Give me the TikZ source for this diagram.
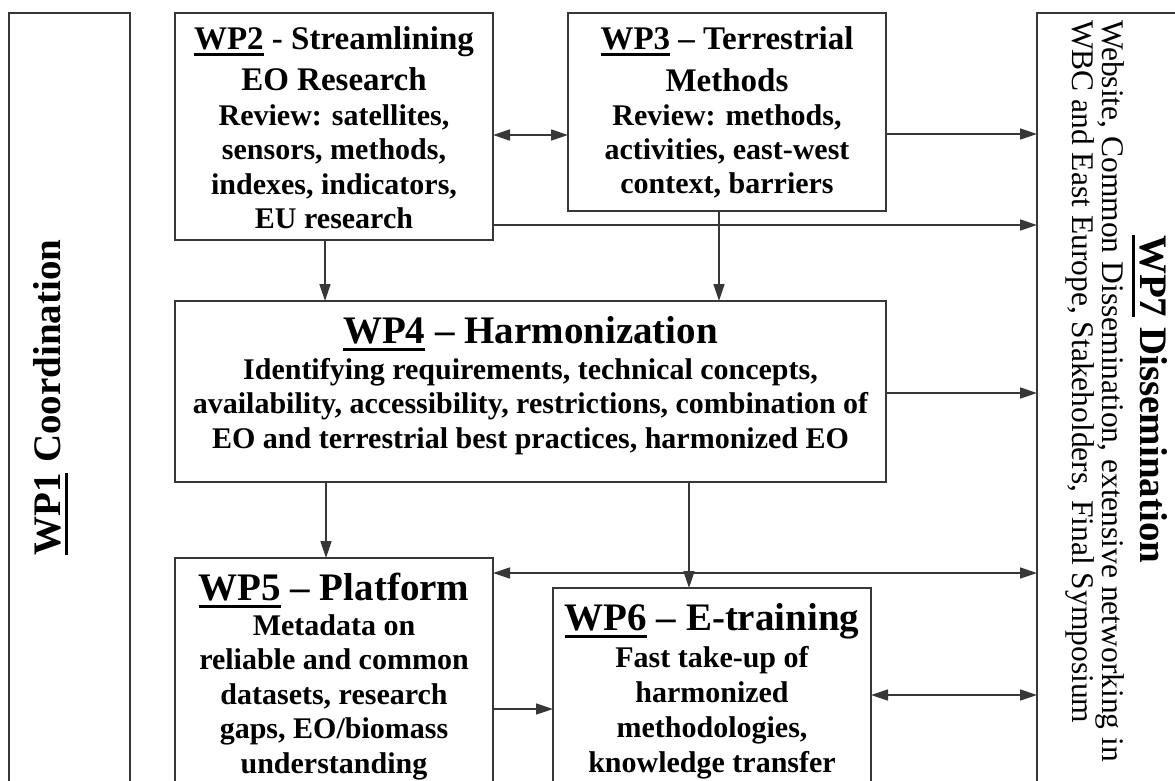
\documentclass[tikz,border=0pt]{standalone}
\usepackage{fontspec}
\setmainfont{Liberation Serif}
\usetikzlibrary{arrows.meta}
\newcommand\wpul[1]{\setbox0\hbox{#1}\rlap{\rule[-0.21em]{\wd0}{0.075em}}\box0\relax}
\definecolor{lc}{RGB}{55,55,55}
\begin{document}
\begin{tikzpicture}[x=1pt,y=-1pt,
  box/.style={draw=lc, line width=1.7pt, rectangle, inner sep=0pt, outer sep=0pt, anchor=north west},
  txt/.style={inner sep=0pt, outer sep=0pt, anchor=base, font=\bfseries\fontsize{30}{34}\selectfont},
  sttl/.style={txt, font=\bfseries\fontsize{33}{38}\selectfont},
  ttl/.style={txt, font=\bfseries\fontsize{39}{44}\selectfont},
  rtxt/.style={inner sep=0pt, outer sep=0pt, font=\fontsize{31.5}{36}\selectfont},
  tip/.tip={Triangle[length=17pt,width=11pt]},
  arr/.style={draw=lc, line width=1.5pt, -tip},
  darr/.style={draw=lc, line width=1.5pt, tip-tip}]
\useasboundingbox (0,0) rectangle (1175,780);
\clip (0,0) rectangle (1175,780);
\fill[white] (0,0) rectangle (1175,780);
% boxes
\node[box, minimum width=121pt, minimum height=800pt] (wp1) at (9,13) {};
\node[box, minimum width=318pt, minimum height=227pt] (wp2) at (175,13) {};
\node[box, minimum width=318pt, minimum height=198pt] (wp3) at (568,13) {};
\node[box, minimum width=711pt, minimum height=181pt] (wp4) at (175,301) {};
\node[box, minimum width=318pt, minimum height=300pt] (wp5) at (175,558) {};
\node[box, minimum width=318pt, minimum height=300pt] (wp6) at (553,588) {};
\node[box, minimum width=200pt, minimum height=800pt] (wp7) at (1037,13) {};
% WP1
\node[ttl, rotate=90, anchor=base west] (t1) at (60,555) {\wpul{WP1} Coordination};
% WP2
\node[sttl] (t2a) at (334,49) {\wpul{WP2} - Streamlining};
\node[sttl] (t2b) at (334,90) {EO Research};
\node[txt] (t2c) at (334,125) {Review: satellites,};
\node[txt] (t2d) at (334,159) {sensors, methods,};
\node[txt] (t2e) at (334,194) {indexes, indicators,};
\node[txt] (t2f) at (334,228) {EU research};
% WP3
\node[sttl] (t3a) at (727,49) {\wpul{WP3} – Terrestrial};
\node[sttl] (t3b) at (727,91) {Methods};
\node[txt] (t3c) at (727,125) {Review: methods,};
\node[txt] (t3d) at (727,159) {activities, east-west};
\node[txt] (t3e) at (727,193) {context, barriers};
% WP4
\node[ttl] (t4a) at (530.5,343) {\wpul{WP4} – Harmonization};
\node[txt] (t4b) at (530.5,379) {Identifying requirements, technical concepts,};
\node[txt] (t4c) at (530.5,413) {availability, accessibility, restrictions, combination of};
\node[txt] (t4d) at (530.5,448) {EO and terrestrial best practices, harmonized EO};
% WP5
\node[ttl] (t5a) at (334,600) {\wpul{WP5} – Platform};
\node[txt] (t5b) at (334,635) {Metadata on};
\node[txt] (t5c) at (334,669.5) {reliable and common};
\node[txt] (t5d) at (334,704) {datasets, research};
\node[txt] (t5e) at (334,738.5) {gaps, EO/biomass};
\node[txt] (t5f) at (334,773) {understanding};
% WP6
\node[ttl] (t6a) at (712,630) {\wpul{WP6} – E-training};
\node[txt] (t6b) at (712,667) {Fast take-up of};
\node[txt] (t6c) at (712,702) {harmonized};
\node[txt] (t6d) at (712,737) {methodologies,};
\node[txt] (t6e) at (712,772) {knowledge transfer};
% WP7
\node[ttl, rotate=-90, anchor=base west] (t7a) at (1140,235) {\wpul{WP7} Dissemination};
\node[rtxt, rotate=-90, anchor=base west] (t7b) at (1102,20) {Website, Common Dissemination, extensive networking in};
\node[rtxt, rotate=-90, anchor=base west] (t7c) at (1072,20) {WBC and East Europe, Stakeholders, Final Symposium};
% connectors
\draw[darr] (wp2.east |- 0,135) -- (wp3.west |- 0,135);
\draw[arr] (wp3.east |- 0,134) -- (wp7.west |- 0,134);
\draw[arr] (wp2.east |- 0,225) -- (wp7.west |- 0,225);
\draw[arr] (wp2.south -| 325,0) -- (wp4.north -| 325,0);
\draw[arr] (wp3.south -| 719,0) -- (wp4.north -| 719,0);
\draw[arr] (wp4.east |- 0,393) -- (wp7.west |- 0,393);
\draw[arr] (wp4.south -| 326,0) -- (wp5.north -| 326,0);
\draw[arr] (wp4.south -| 689,0) -- (wp6.north -| 689,0);
\draw[darr] (wp5.east |- 0,573) -- (wp7.west |- 0,573);
\draw[arr] (wp5.east |- 0,709) -- (wp6.west |- 0,709);
\draw[darr] (wp6.east |- 0,695) -- (wp7.west |- 0,695);
\end{tikzpicture}
\end{document}
